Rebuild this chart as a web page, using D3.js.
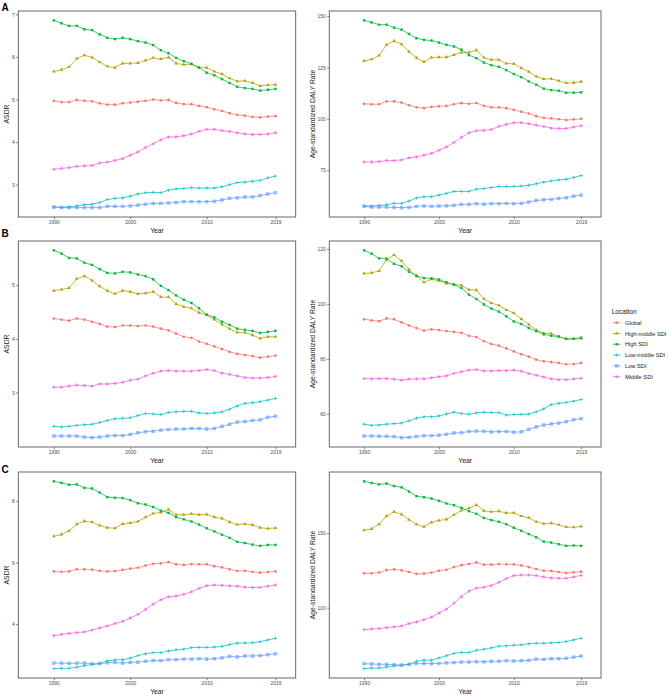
<!DOCTYPE html>
<meta charset="utf-8">
<html>
<head>
<style>
  body { margin: 0; background: #fff; }
  svg text { font-family: "Liberation Sans", Arial, sans-serif; }
</style>
</head>
<body>
<div id="chart"></div>
<script src="https://d3js.org/d3.v7.min.js"></script>
<script>

// ---- data ----
var years = [1990,1991,1992,1993,1994,1995,1996,1997,1998,1999,2000,2001,2002,2003,2004,
             2005,2006,2007,2008,2009,2010,2011,2012,2013,2014,2015,2016,2017,2018,2019];

var locations = ["Global", "High-middle SDI", "High SDI", "Low-middle SDI", "Low SDI", "Middle SDI"];
var colors = ["#F8766D", "#B79F00", "#00BA38", "#00BFC4", "#619CFF", "#F564E3"];
var shapes = ["circle", "triangle", "square", "plus", "squareCross", "asterisk"];

var xTicks = [1990, 2000, 2010, 2019];
var xLimits = [1987, 2020];

// one array per location, same order as `locations`
var asdrA = [
  [4.97,4.94,4.94,4.99,4.97,4.96,4.91,4.88,4.88,4.91,4.93,4.95,4.97,5.00,4.98,4.99,4.92,4.89,4.89,4.85,4.82,4.77,4.73,4.68,4.64,4.62,4.59,4.58,4.60,4.61],
  [5.66,5.70,5.77,5.96,6.04,5.99,5.88,5.78,5.75,5.85,5.85,5.86,5.92,5.98,5.95,5.99,5.85,5.82,5.83,5.75,5.75,5.66,5.60,5.50,5.43,5.44,5.39,5.32,5.34,5.35],
  [6.86,6.79,6.73,6.73,6.65,6.63,6.53,6.45,6.42,6.45,6.42,6.37,6.34,6.28,6.16,6.09,5.98,5.90,5.84,5.75,5.63,5.57,5.48,5.39,5.30,5.27,5.25,5.21,5.23,5.25],
  [2.48,2.47,2.48,2.50,2.53,2.54,2.58,2.65,2.68,2.69,2.73,2.78,2.81,2.82,2.81,2.87,2.90,2.91,2.93,2.92,2.92,2.92,2.95,3.00,3.05,3.06,3.08,3.10,3.16,3.20],
  [2.47,2.46,2.46,2.46,2.46,2.46,2.46,2.49,2.49,2.49,2.50,2.52,2.54,2.56,2.56,2.57,2.58,2.60,2.60,2.60,2.60,2.61,2.64,2.68,2.69,2.71,2.71,2.74,2.78,2.81],
  [3.36,3.38,3.40,3.43,3.44,3.45,3.51,3.53,3.57,3.61,3.69,3.77,3.87,3.96,4.05,4.12,4.12,4.15,4.19,4.25,4.30,4.30,4.27,4.25,4.22,4.19,4.18,4.18,4.19,4.22]
];
var dalyA = [
  [107.3,107.1,107.1,108.5,108.5,107.9,106.6,105.6,105.2,105.8,106.1,106.3,107.1,107.6,107.3,107.7,106.3,105.6,105.6,105.2,104.4,103.5,102.6,101.3,100.5,100.2,99.8,99.4,99.7,100.0],
  [128.2,129.0,130.8,136.0,137.9,136.3,132.6,129.7,127.7,129.8,130.0,130.0,131.1,132.3,132.3,133.4,129.8,128.7,128.7,126.9,126.8,124.7,122.9,120.6,119.4,119.5,118.5,117.4,117.6,118.1],
  [147.9,146.9,145.8,145.8,144.4,143.4,141.3,139.2,138.4,138.1,137.1,136.0,135.2,133.7,131.0,129.5,127.4,126.1,125.3,123.7,121.8,120.3,118.2,116.6,114.7,114.0,113.7,112.7,112.7,112.9],
  [57.7,57.6,57.9,58.2,58.9,58.9,60.0,61.5,62.1,62.1,62.9,63.7,64.7,64.7,64.7,65.8,66.1,66.6,67.1,67.1,67.1,67.3,67.7,68.4,69.2,69.8,70.3,70.6,71.5,72.4],
  [57.4,57.1,57.1,57.1,56.9,56.8,56.9,57.4,57.6,57.4,57.6,57.7,57.9,58.4,58.4,58.7,58.5,58.7,58.7,58.9,58.7,58.9,59.5,60.3,60.6,60.8,61.3,61.6,62.4,62.9],
  [79.0,79.0,79.2,79.7,79.7,80.0,81.0,81.5,82.3,83.2,84.7,86.3,88.5,91.0,93.2,94.2,94.4,94.8,96.3,97.3,98.1,98.1,97.6,96.9,96.3,95.5,95.3,95.3,96.0,96.6]
];
var asdrB = [
  [4.38,4.36,4.34,4.38,4.36,4.32,4.28,4.23,4.22,4.25,4.25,4.24,4.25,4.23,4.19,4.16,4.10,4.04,4.02,3.95,3.91,3.86,3.81,3.76,3.72,3.70,3.68,3.65,3.67,3.69],
  [4.90,4.92,4.95,5.12,5.17,5.09,4.98,4.90,4.84,4.90,4.88,4.84,4.85,4.88,4.78,4.78,4.65,4.60,4.57,4.49,4.45,4.36,4.27,4.19,4.12,4.12,4.07,4.01,4.04,4.04],
  [5.65,5.59,5.51,5.50,5.42,5.38,5.30,5.23,5.22,5.25,5.24,5.20,5.17,5.11,4.99,4.91,4.81,4.73,4.67,4.57,4.45,4.40,4.32,4.26,4.19,4.17,4.15,4.11,4.13,4.15],
  [2.37,2.36,2.37,2.39,2.40,2.41,2.44,2.48,2.51,2.52,2.53,2.57,2.61,2.60,2.59,2.63,2.64,2.65,2.65,2.62,2.61,2.62,2.64,2.69,2.75,2.80,2.81,2.83,2.86,2.89],
  [2.19,2.19,2.19,2.19,2.17,2.16,2.17,2.19,2.20,2.20,2.22,2.25,2.27,2.28,2.30,2.31,2.32,2.32,2.33,2.33,2.32,2.33,2.37,2.41,2.45,2.46,2.48,2.49,2.54,2.56],
  [3.10,3.10,3.12,3.14,3.13,3.12,3.16,3.16,3.17,3.19,3.23,3.25,3.31,3.36,3.40,3.41,3.40,3.40,3.40,3.41,3.43,3.41,3.36,3.34,3.31,3.28,3.27,3.27,3.28,3.30]
];
var dalyB = [
  [94.4,94.0,93.7,94.7,94.4,93.3,92.1,91.2,90.3,90.7,90.5,90.1,89.8,89.5,88.4,87.9,86.4,85.4,84.8,83.8,82.7,81.7,80.8,79.7,79.1,78.8,78.5,78.0,78.1,78.5],
  [111.1,111.3,112.0,116.1,117.8,115.7,112.5,110.1,107.9,109.0,108.4,107.4,107.1,106.8,105.2,105.0,101.9,100.3,99.5,97.8,96.7,94.5,92.5,90.5,89.3,89.2,88.1,87.2,87.2,87.4],
  [119.5,118.3,116.6,116.5,114.6,113.7,111.7,110.2,109.4,109.3,108.9,107.9,107.0,105.8,103.4,101.8,99.8,98.3,97.2,95.5,93.6,92.7,91.2,90.1,88.9,88.4,88.1,87.3,87.3,87.7],
  [56.2,55.8,55.9,56.2,56.4,56.6,57.4,58.4,58.9,58.9,59.2,59.9,60.6,60.1,59.8,60.3,60.6,60.4,60.4,59.5,59.7,59.8,59.9,60.7,61.8,63.3,63.8,64.1,64.6,65.2],
  [51.9,51.9,51.8,51.8,51.7,51.3,51.4,51.7,52.0,52.0,52.2,52.5,53.0,53.1,53.5,53.7,53.6,53.4,53.5,53.5,53.3,53.4,54.3,55.2,55.9,56.3,56.6,57.1,57.8,58.2],
  [72.8,72.7,72.8,72.8,72.6,72.2,72.6,72.7,72.7,73.1,73.5,73.8,74.7,75.3,75.9,76.1,75.6,75.6,75.7,75.7,75.9,75.5,74.6,74.0,73.4,72.7,72.4,72.4,72.7,72.9]
];
var asdrC = [
  [5.71,5.70,5.71,5.78,5.78,5.77,5.73,5.71,5.72,5.76,5.80,5.83,5.90,5.96,5.97,6.01,5.94,5.92,5.95,5.94,5.94,5.88,5.84,5.78,5.73,5.73,5.70,5.67,5.69,5.71],
  [6.85,6.91,7.03,7.24,7.34,7.31,7.20,7.13,7.11,7.25,7.28,7.33,7.47,7.59,7.62,7.72,7.55,7.55,7.58,7.55,7.56,7.47,7.43,7.31,7.23,7.25,7.22,7.13,7.10,7.12],
  [8.63,8.58,8.52,8.53,8.42,8.40,8.27,8.12,8.10,8.09,8.02,7.92,7.88,7.80,7.68,7.61,7.47,7.40,7.33,7.23,7.11,7.01,6.90,6.80,6.67,6.63,6.58,6.54,6.57,6.57],
  [2.56,2.57,2.57,2.61,2.66,2.69,2.72,2.81,2.84,2.85,2.90,2.98,3.04,3.08,3.08,3.13,3.17,3.19,3.24,3.25,3.25,3.26,3.28,3.34,3.39,3.39,3.40,3.43,3.49,3.54],
  [2.74,2.74,2.73,2.74,2.74,2.72,2.73,2.75,2.76,2.74,2.76,2.77,2.80,2.82,2.82,2.85,2.85,2.87,2.87,2.88,2.87,2.88,2.91,2.96,2.94,2.97,2.97,2.98,3.01,3.04],
  [3.63,3.67,3.70,3.73,3.75,3.81,3.88,3.94,4.02,4.09,4.20,4.32,4.48,4.65,4.79,4.89,4.91,4.97,5.05,5.16,5.25,5.27,5.26,5.24,5.23,5.20,5.19,5.19,5.23,5.27]
];
var dalyC = [
  [123.0,123.0,123.5,125.2,125.7,125.0,123.9,122.6,122.8,123.5,124.8,125.4,127.2,128.5,129.2,130.3,128.8,128.8,129.2,129.0,129.0,128.3,127.2,125.9,124.8,124.6,123.9,123.2,123.7,124.1],
  [151.8,152.7,155.8,161.3,164.2,162.4,158.8,155.8,154.2,157.1,158.4,159.1,162.2,165.0,166.6,168.8,164.8,164.2,164.6,163.3,163.5,161.3,160.2,157.5,156.2,156.6,155.5,154.0,153.8,154.4],
  [184.5,183.4,182.5,183.0,181.4,180.5,177.7,174.6,173.9,173.0,171.5,169.7,168.6,166.8,164.6,162.8,160.0,158.6,157.5,155.8,153.5,151.5,149.3,147.1,144.2,143.6,142.5,141.4,141.6,141.4],
  [59.3,59.7,59.7,60.4,61.1,61.5,62.2,64.2,65.0,65.0,66.4,67.9,69.5,70.1,70.1,71.5,72.3,73.2,74.3,74.6,75.0,75.2,75.9,76.3,76.3,76.5,76.8,77.4,78.5,79.6],
  [62.6,62.4,62.2,62.2,61.9,61.7,62.2,62.8,62.8,62.6,62.8,63.1,63.3,63.7,63.7,63.9,63.9,64.2,64.2,64.6,64.4,64.6,64.8,65.7,65.5,65.9,65.9,66.2,67.0,67.7],
  [85.4,85.8,86.1,86.7,87.2,87.8,89.4,90.5,92.0,93.8,96.5,99.1,103.1,107.3,111.1,113.1,113.7,114.8,117.0,119.5,121.5,121.9,121.9,121.5,120.6,119.9,119.7,119.7,120.6,121.7]
];

var ticksAsdrA = [3, 4, 5, 6, 7];
var ticksDalyA = [75, 100, 125, 150];
var ticksAsdrB = [3, 4, 5];
var ticksDalyB = [60, 80, 100, 120];
var ticksAsdrC = [4, 6, 8];
var ticksDalyC = [100, 150];

// ---- layout ----
var W = 669, H = 696;
var cols = [{left: 18.3, right: 295.7, titleX: 6.5}, {left: 329.3, right: 601, titleX: 312.5}];
var rowTops = [11, 241, 472];
var panelH = 206;
var rowLabels = ["A", "B", "C"];
var labelBase = [10.5, 237, 472.5];

var panels = [
  {row: 0, col: 0, data: asdrA, ticks: ticksAsdrA, title: "ASDR"},
  {row: 0, col: 1, data: dalyA, ticks: ticksDalyA, title: "Age-standardized DALY Rate"},
  {row: 1, col: 0, data: asdrB, ticks: ticksAsdrB, title: "ASDR"},
  {row: 1, col: 1, data: dalyB, ticks: ticksDalyB, title: "Age-standardized DALY Rate"},
  {row: 2, col: 0, data: asdrC, ticks: ticksAsdrC, title: "ASDR"},
  {row: 2, col: 1, data: dalyC, ticks: ticksDalyC, title: "Age-standardized DALY Rate"}
];

var svg = d3.select("#chart").append("svg")
    .attr("width", W)
    .attr("height", H)
    .style("display", "block");

svg.append("rect").attr("width", W).attr("height", H).attr("fill", "#fff");

// ggplot style 5% expansion
function expand(ext) {
  var d = (ext[1] - ext[0]) * 0.05;
  return [ext[0] - d, ext[1] + d];
}

// point glyphs (ggplot shapes 16, 17, 15, 3, 7, 8)
function drawGlyph(sel, shape, color) {
  if (shape == "circle") {
    sel.append("circle").attr("r", 1.35).attr("fill", color);
  } else if (shape == "triangle") {
    sel.append("path").attr("d", d3.symbol().type(d3.symbolTriangle).size(5.5)).attr("fill", color);
  } else if (shape == "square") {
    sel.append("rect").attr("x", -1.2).attr("y", -1.2).attr("width", 2.4).attr("height", 2.4).attr("fill", color);
  } else if (shape == "plus") {
    sel.append("path").attr("d", "M-1.7,0H1.7M0,-1.7V1.7")
      .attr("fill", "none").attr("stroke", color).attr("stroke-width", 0.65);
  } else if (shape == "squareCross") {
    sel.append("path").attr("d", "M-1.3,-1.3H1.3V1.3H-1.3ZM-1.3,-1.3L1.3,1.3M1.3,-1.3L-1.3,1.3")
      .attr("fill", "none").attr("stroke", color).attr("stroke-width", 0.6);
  } else {
    sel.append("path").attr("d", "M-1.7,0H1.7M0,-1.7V1.7M-1.2,-1.2L1.2,1.2M1.2,-1.2L-1.2,1.2")
      .attr("fill", "none").attr("stroke", color).attr("stroke-width", 0.6);
  }
}

panels.forEach(function(p) {
  var c = cols[p.col];
  var top = rowTops[p.row], bottom = top + panelH;

  var x = d3.scaleLinear().domain(expand(xLimits)).range([c.left, c.right]);
  var all = d3.merge(p.data);
  var y = d3.scaleLinear().domain(expand(d3.extent(all))).range([bottom, top]);

  var g = svg.append("g");

  // x axis
  var xa = g.append("g")
    .attr("transform", "translate(0," + bottom + ")")
    .call(d3.axisBottom(x).tickValues(xTicks).tickFormat(d3.format("d")).tickSize(2.2).tickPadding(1.5));
  // y axis
  var ya = g.append("g")
    .attr("transform", "translate(" + c.left + ",0)")
    .call(d3.axisLeft(y).tickValues(p.ticks).tickFormat(d3.format("d")).tickSize(2.2).tickPadding(1.3));
  [xa, ya].forEach(function(a) {
    a.select(".domain").remove();
    a.selectAll(".tick line").attr("stroke", "#333").attr("stroke-width", 0.6);
    a.selectAll(".tick text").attr("fill", "#4D4D4D").style("font-size", "5px");
  });

  // lines then points
  p.data.forEach(function(vals, i) {
    var pts = years.map(function(yr, j) { return {year: yr, value: vals[j]}; });
    g.append("path")
      .datum(pts)
      .attr("fill", "none")
      .attr("stroke", colors[i])
      .attr("stroke-width", 0.75)
      .attr("d", d3.line()
        .x(function(d) { return x(d.year); })
        .y(function(d) { return y(d.value); }));
  });
  p.data.forEach(function(vals, i) {
    var pts = years.map(function(yr, j) { return {year: yr, value: vals[j]}; });
    g.append("g").selectAll("g")
      .data(pts)
      .enter()
      .append("g")
        .attr("transform", function(d) { return "translate(" + x(d.year) + "," + y(d.value) + ")"; })
        .each(function() { drawGlyph(d3.select(this), shapes[i], colors[i]); });
  });

  // panel border
  g.append("rect")
    .attr("x", c.left).attr("y", top)
    .attr("width", c.right - c.left).attr("height", panelH)
    .attr("fill", "none").attr("stroke", "#595959").attr("stroke-width", 0.9);

  // axis titles
  g.append("text")
    .attr("x", (c.left + c.right) / 2)
    .attr("y", bottom + 15.8)
    .attr("text-anchor", "middle")
    .style("font-size", "6.8px")
    .attr("fill", "#1a1a1a")
    .text("Year");
  g.append("text")
    .attr("transform", "translate(" + (c.titleX + 2.4) + "," + ((top + bottom) / 2) + ") rotate(-90)")
    .attr("text-anchor", "middle")
    .style("font-size", "6.8px")
    .attr("fill", "#1a1a1a")
    .text(p.title);
});

// row labels A, B, C
rowLabels.forEach(function(l, i) {
  svg.append("text")
    .attr("x", 1.5)
    .attr("y", labelBase[i])
    .style("font-size", "10px")
    .style("font-weight", "bold")
    .text(l);
});

// legend
var legend = svg.append("g");
legend.append("text")
  .attr("x", 611.7).attr("y", 314)
  .style("font-size", "6.6px")
  .attr("fill", "#1a1a1a")
  .text("Location");
locations.forEach(function(name, i) {
  var cy = 322.7 + i * 10.8;
  var item = legend.append("g").attr("transform", "translate(616.7," + cy + ")");
  item.append("line")
    .attr("x1", -4).attr("x2", 4)
    .attr("stroke", colors[i]).attr("stroke-width", 0.75);
  drawGlyph(item, shapes[i], colors[i]);
  legend.append("text")
    .attr("x", 625).attr("y", cy + 2)
    .style("font-size", "5.7px")
    .attr("fill", "#1a1a1a")
    .text(name);
});

</script>
</body>
</html>
